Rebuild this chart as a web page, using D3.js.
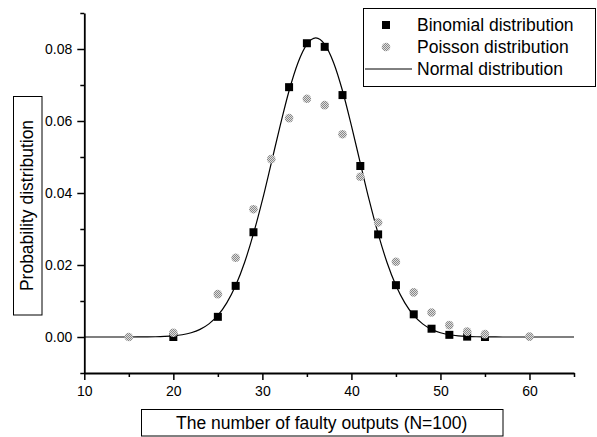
<!DOCTYPE html>
<html><head><meta charset="utf-8">
<script src="https://cdn.jsdelivr.net/npm/d3@7"></script>
<style>body{margin:0;background:#fff}svg{display:block;font-family:"Liberation Sans",Arial,sans-serif}</style>
</head><body><svg id="c" width="597" height="437"></svg>
<script>
// Binomial distribution points (N=100); no visible square at 31 in the reference
const binomX = [20,25,27,29,33,35,37,39,41,43,45,47,49,51,53,55];
const binomY = [0.0000,0.0056,0.0142,0.0291,0.0694,0.0816,0.0806,0.0672,0.0475,0.0285,0.0144,0.0063,0.0023,0.0006,0.0001,0.0000];
// Poisson distribution points
const poisX = [15,20,25,27,29,31,33,35,37,39,41,43,45,47,49,51,53,55,60];
const poisY = [0.0000,0.0012,0.0119,0.0220,0.0355,0.0494,0.0608,0.0662,0.0644,0.0563,0.0445,0.0318,0.0209,0.0124,0.0068,0.0033,0.0015,0.0008,0.0001];
// Normal distribution curve (read at integer x from 10 to 65)
const normX = [10,11,12,13,14,15,16,17,18,19,20,21,22,23,24,25,26,27,28,29,30,31,32,33,34,35,36,37,38,39,40,41,42,43,44,45,46,47,48,49,50,51,52,53,54,55,56,57,58,59,60,61,62,63,64,65];
const normY = [0,0,0,0,0,0,0.00001,0.00003,0.00007,0.00016,0.00032,0.00063,0.00118,0.00212,0.00365,0.00601,0.00949,0.0143,0.0207,0.0287,0.0380,0.0483,0.0587,0.0684,0.0762,0.0813,0.0831,0.0813,0.0762,0.0684,0.0587,0.0483,0.0380,0.0287,0.0207,0.0143,0.00949,0.00601,0.00365,0.00212,0.00118,0.00063,0.00032,0.00016,0.00007,0.00003,0.00001,0,0,0,0,0,0,0,0,0];
const xTicks = [10,20,30,40,50,60];
const xMinor = [15,25,35,45,55,65];
const yTicks = [0,0.02,0.04,0.06,0.08];
const yMinor = [-0.01,0.01,0.03,0.05,0.07,0.09];
const legendLabels = ["Binomial distribution","Poisson distribution","Normal distribution"];
const xTitle = "The number of faulty outputs (N=100)";
const yTitle = "Probability distribution";

const svg = d3.select("#c");
const x = d3.scaleLinear().domain([10,65]).range([84.3,574]);
const y = d3.scaleLinear().domain([-0.01,0.09]).range([373,13]);

// pattern for Poisson markers
const defs = svg.append("defs");
const pat = defs.append("pattern").attr("id","dith").attr("patternUnits","userSpaceOnUse").attr("width",2).attr("height",2);
pat.append("rect").attr("width",2).attr("height",2).attr("fill","#dedede");
pat.append("rect").attr("width",1).attr("height",1).attr("fill","#888");
pat.append("rect").attr("x",1).attr("y",1).attr("width",1).attr("height",1).attr("fill","#888");

// axes
const yAxis = svg.append("g").attr("transform","translate(84.3,0)")
  .call(d3.axisLeft(y).tickValues(yTicks).tickFormat(d3.format(".2f")).tickSize(7).tickSizeOuter(0));
svg.append("g").attr("transform","translate(84.3,0)")
  .call(d3.axisLeft(y).tickValues(yMinor).tickFormat("").tickSize(4).tickSizeOuter(0))
  .select(".domain").remove();
const xAxis = svg.append("g").attr("transform","translate(0,373)")
  .call(d3.axisBottom(x).tickValues(xTicks).tickFormat(d3.format("d")).tickSize(7).tickSizeOuter(0));
svg.append("g").attr("transform","translate(0,373)")
  .call(d3.axisBottom(x).tickValues(xMinor).tickFormat("").tickSize(4).tickSizeOuter(0))
  .select(".domain").remove();
svg.selectAll(".domain").attr("stroke","#000").attr("stroke-width",1.8);
svg.selectAll(".tick line").attr("stroke","#000").attr("stroke-width",1.5);
yAxis.selectAll("text").attr("font-size",14).attr("fill","#000").attr("x",-12).attr("font-family","Liberation Sans, Arial, sans-serif");
xAxis.selectAll("text").attr("font-size",14).attr("fill","#000").attr("y",13).attr("font-family","Liberation Sans, Arial, sans-serif");
svg.selectAll(".tick text").attr("dy","0.71em");
yAxis.selectAll("text").attr("dy","0.35em");

// normal curve
const line = d3.line().x((d,i)=>x(normX[i])).y(d=>y(d)).curve(d3.curveMonotoneX);
svg.append("path").datum(normY).attr("d",line).attr("fill","none").attr("stroke","#000").attr("stroke-width",1.2);

// binomial squares
svg.append("g").selectAll("rect").data(binomY).join("rect")
  .attr("x",(d,i)=>x(binomX[i])-4).attr("y",d=>y(d)-4).attr("width",8).attr("height",8).attr("fill","#000");
// poisson circles
svg.append("g").selectAll("circle").data(poisY).join("circle")
  .attr("cx",(d,i)=>x(poisX[i])).attr("cy",d=>y(d)).attr("r",4.3).attr("fill","url(#dith)");

// legend
const lg = svg.append("g");
lg.append("rect").attr("x",363.5).attr("y",8.5).attr("width",232).attr("height",78).attr("fill","#fff").attr("stroke","#000").attr("stroke-width",1);
lg.append("rect").attr("x",382).attr("y",21).attr("width",8).attr("height",8).attr("fill","#000");
lg.append("circle").attr("cx",386).attr("cy",47).attr("r",4.3).attr("fill","url(#dith)");
lg.append("line").attr("x1",365).attr("x2",412).attr("y1",69).attr("y2",69).attr("stroke","#000").attr("stroke-width",1);
lg.selectAll("text").data(legendLabels).join("text")
  .attr("x",417).attr("y",(d,i)=>31+i*22).attr("font-size",17.5).attr("fill","#000").text(d=>d);

// y title
svg.append("rect").attr("x",13.5).attr("y",96.5).attr("width",28.5).attr("height",218.5).attr("fill","none").attr("stroke","#000");
svg.append("text").attr("transform","translate(33,205.5) rotate(-90)").attr("text-anchor","middle")
  .attr("font-size",17.5).attr("fill","#000").text(yTitle);
// x title
svg.append("rect").attr("x",141.5).attr("y",409.5).attr("width",361.5).attr("height",26.5).attr("fill","none").attr("stroke","#000");
svg.append("text").attr("x",321.7).attr("y",429).attr("text-anchor","middle")
  .attr("font-size",17.5).attr("fill","#000").text(xTitle);
</script></body></html>
